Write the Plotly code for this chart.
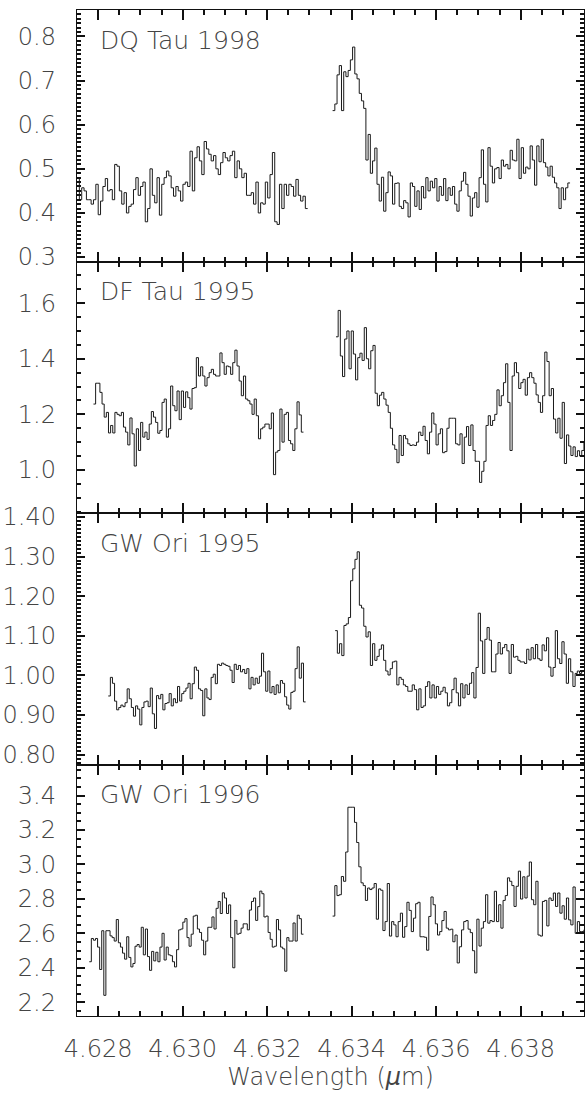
import numpy as np
import plotly.graph_objects as go
from plotly.subplots import make_subplots

# ---------------- data ----------------
panel_labels = ["DQ Tau 1998", "DF Tau 1995", "GW Ori 1995", "GW Ori 1996"]

# wavelength extents (micron) of the two spectral segments in each panel
seg_left = [(4.6275, 4.63296), (4.62789, 4.63286), (4.62824, 4.63291), (4.62779, 4.63286)]
seg_right = [(4.63355, 4.63917), (4.63363, 4.63955), (4.63361, 4.63955), (4.63355, 4.63955)]

dq98_left = [0.48, 0.43, 0.457, 0.45, 0.43, 0.43, 0.42, 0.43, 0.465, 0.396, 0.427, 0.46, 0.478, 0.45,
             0.453, 0.43, 0.51, 0.506, 0.45, 0.42, 0.446, 0.40, 0.415, 0.42, 0.453, 0.48, 0.44, 0.46,
             0.47, 0.38, 0.41, 0.50, 0.44, 0.423, 0.48, 0.395, 0.465, 0.48, 0.495, 0.484, 0.457, 0.438,
             0.46, 0.45, 0.427, 0.465, 0.47, 0.46, 0.54, 0.45, 0.525, 0.55, 0.518, 0.487, 0.562, 0.545,
             0.533, 0.518, 0.53, 0.50, 0.487, 0.514, 0.537, 0.525, 0.518, 0.53, 0.54, 0.48, 0.518, 0.50,
             0.48, 0.49, 0.44, 0.44, 0.446, 0.42, 0.47, 0.40, 0.423, 0.42, 0.47, 0.434, 0.487, 0.537,
             0.38, 0.374, 0.465, 0.41, 0.465, 0.44, 0.465, 0.46, 0.438, 0.476, 0.44, 0.427, 0.438, 0.41]
dq98_right = [0.632, 0.647, 0.713, 0.734, 0.632, 0.72, 0.709, 0.723, 0.747, 0.776, 0.715, 0.704, 0.671,
              0.654, 0.637, 0.52, 0.578, 0.49, 0.518, 0.547, 0.465, 0.427, 0.481, 0.404, 0.446, 0.493,
              0.484, 0.42, 0.467, 0.468, 0.415, 0.41, 0.428, 0.423, 0.391, 0.468, 0.46, 0.415, 0.45,
              0.408, 0.46, 0.434, 0.48, 0.45, 0.472, 0.457, 0.478, 0.427, 0.46, 0.44, 0.478, 0.428,
              0.457, 0.44, 0.46, 0.42, 0.404, 0.45, 0.472, 0.492, 0.465, 0.438, 0.393, 0.434, 0.446,
              0.413, 0.48, 0.543, 0.465, 0.425, 0.548, 0.506, 0.468, 0.50, 0.503, 0.478, 0.52, 0.506,
              0.51, 0.50, 0.542, 0.52, 0.518, 0.567, 0.478, 0.548, 0.49, 0.504, 0.50, 0.552, 0.52,
              0.463, 0.552, 0.516, 0.567, 0.514, 0.504, 0.484, 0.506, 0.481, 0.468, 0.457, 0.41, 0.457,
              0.43, 0.457, 0.468]

df95_left = [1.237, 1.312, 1.312, 1.279, 1.237, 1.19, 1.207, 1.133, 1.16, 1.133, 1.207, 1.2, 1.195,
             1.207, 1.154, 1.136, 1.09, 1.187, 1.13, 1.014, 1.148, 1.07, 1.171, 1.118, 1.136, 1.11,
             1.165, 1.21, 1.19, 1.171, 1.132, 1.142, 1.243, 1.255, 1.118, 1.148, 1.302, 1.231, 1.213,
             1.284, 1.181, 1.284, 1.225, 1.281, 1.26, 1.219, 1.293, 1.296, 1.404, 1.338, 1.371, 1.338,
             1.302, 1.332, 1.35, 1.362, 1.344, 1.338, 1.338, 1.421, 1.386, 1.344, 1.374, 1.371, 1.344,
             1.386, 1.431, 1.374, 1.32, 1.267, 1.338, 1.255, 1.249, 1.237, 1.2, 1.255, 1.195, 1.112,
             1.148, 1.154, 1.165, 1.165, 1.148, 1.205, 0.983, 1.064, 1.07, 1.219, 1.1, 1.2, 1.207,
             1.106, 1.094, 1.07, 1.148, 1.245, 1.198, 1.136]
df95_right = [1.479, 1.574, 1.41, 1.336, 1.471, 1.5, 1.364, 1.5, 1.417, 1.324, 1.404, 1.42, 1.394,
              1.512, 1.4, 1.364, 1.429, 1.448, 1.276, 1.231, 1.269, 1.279, 1.255, 1.233, 1.207, 1.15,
              1.09, 1.074, 1.026, 1.124, 1.052, 1.124, 1.112, 1.094, 1.088, 1.09, 1.088, 1.1, 1.136,
              1.124, 1.157, 1.106, 1.058, 1.136, 1.205, 1.165, 1.09, 1.13, 1.148, 1.062, 1.066, 1.15,
              1.186, 1.186, 1.186, 1.094, 1.09, 1.13, 1.023, 1.118, 1.156, 1.088, 1.162, 1.07, 1.031,
              1.031, 0.955, 0.995, 1.031, 1.16, 1.195, 1.16, 1.178, 1.2, 1.288, 1.231, 1.267, 1.314,
              1.382, 1.243, 1.07, 1.338, 1.386, 1.35, 1.293, 1.314, 1.326, 1.269, 1.332, 1.35, 1.332,
              1.312, 1.27, 1.243, 1.207, 1.267, 1.424, 1.39, 1.267, 1.293, 1.183, 1.133, 1.186, 1.114,
              1.243, 1.023, 1.126, 1.086, 1.052, 1.083, 1.048, 1.069, 1.05, 1.07, 1.1]

gw95_left = [0.948, 0.995, 0.98, 0.935, 0.913, 0.919, 0.925, 0.921, 0.931, 0.966, 0.941, 0.919, 0.897,
             0.923, 0.915, 0.875, 0.919, 0.933, 0.935, 0.921, 0.968, 0.903, 0.866, 0.949, 0.941, 0.952,
             0.913, 0.929, 0.931, 0.954, 0.923, 0.941, 0.931, 0.972, 0.935, 0.954, 0.96, 0.968, 0.98,
             0.941, 0.979, 1.021, 1.013, 0.966, 0.962, 0.898, 0.966, 0.943, 0.939, 0.995, 1.003, 0.979,
             1.028, 1.025, 1.031, 1.028, 1.025, 1.023, 1.013, 0.982, 1.028, 1.015, 1.025, 1.009, 1.015,
             1.005, 1.017, 0.966, 0.995, 0.976, 0.993, 0.98, 0.998, 1.056, 1.009, 0.96, 1.011, 0.956,
             0.972, 0.952, 0.976, 0.956, 0.987, 0.98, 0.946, 0.925, 0.915, 0.957, 0.96, 1.017, 1.072,
             0.993, 1.031, 0.933]
gw95_right = [1.113, 1.056, 1.08, 1.05, 1.126, 1.13, 1.146, 1.239, 1.269, 1.293, 1.312, 1.177, 1.17,
              1.124, 1.097, 1.11, 1.025, 1.08, 1.038, 1.048, 1.066, 1.077, 1.038, 1.011, 1.001, 1.017,
              1.034, 1.036, 0.976, 0.995, 0.99, 0.976, 0.972, 0.96, 0.96, 0.976, 0.964, 0.913, 0.966,
              0.919, 0.923, 0.972, 0.984, 0.943, 0.976, 0.943, 0.972, 0.952, 0.96, 0.97, 0.956, 0.923,
              0.931, 0.964, 0.993, 0.956, 0.923, 0.979, 0.943, 0.976, 0.952, 0.98, 1.007, 0.943, 1.02,
              1.157, 1.087, 1.005, 1.091, 1.121, 1.089, 1.009, 1.009, 1.054, 1.083, 1.054, 1.07, 1.078,
              1.062, 1.005, 1.078, 1.046, 1.048, 1.038, 1.034, 1.034, 1.03, 1.066, 1.039, 1.07, 1.042,
              1.078, 1.042, 1.038, 1.077, 1.062, 1.095, 1.021, 0.998, 1.02, 1.113, 1.042, 1.03, 1.085,
              1.054, 0.98, 1.042, 1.009, 0.972, 1.005, 1.011, 1.005, 1.011, 1.013]

gw96_left = [2.435, 2.57, 2.56, 2.57, 2.52, 2.39, 2.615, 2.24, 2.615, 2.615, 2.585, 2.575, 2.555, 2.68,
             2.545, 2.52, 2.485, 2.45, 2.58, 2.46, 2.405, 2.425, 2.525, 2.535, 2.52, 2.635, 2.475,
             2.625, 2.465, 2.385, 2.495, 2.44, 2.49, 2.435, 2.52, 2.6, 2.445, 2.52, 2.475, 2.47, 2.435,
             2.405, 2.505, 2.62, 2.625, 2.665, 2.685, 2.575, 2.525, 2.595, 2.70, 2.705, 2.625, 2.605,
             2.56, 2.475, 2.555, 2.635, 2.635, 2.695, 2.625, 2.745, 2.785, 2.715, 2.835, 2.805, 2.715,
             2.765, 2.575, 2.4, 2.675, 2.595, 2.6, 2.63, 2.655, 2.655, 2.62, 2.735, 2.785, 2.805, 2.675,
             2.755, 2.845, 2.83, 2.695, 2.70, 2.605, 2.565, 2.52, 2.525, 2.68, 2.62, 2.52, 2.51, 2.38,
             2.575, 2.555, 2.555, 2.66, 2.555, 2.705, 2.685, 2.595]
gw96_right = [2.70, 2.877, 2.819, 2.824, 2.93, 2.902, 3.072, 3.332, 3.332, 3.332, 3.244, 3.127, 2.986,
              2.893, 2.877, 2.791, 2.863, 2.854, 2.863, 2.889, 2.682, 2.858, 2.85, 2.616, 2.668, 2.889,
              2.584, 2.668, 2.649, 2.58, 2.668, 2.717, 2.577, 2.639, 2.78, 2.733, 2.61, 2.688, 2.772,
              2.78, 2.58, 2.58, 2.577, 2.502, 2.698, 2.811, 2.766, 2.655, 2.59, 2.61, 2.674, 2.727,
              2.63, 2.62, 2.624, 2.551, 2.59, 2.428, 2.522, 2.62, 2.668, 2.674, 2.624, 2.604, 2.499,
              2.37, 2.682, 2.526, 2.63, 2.668, 2.824, 2.659, 2.674, 2.668, 2.844, 2.668, 2.766, 2.63,
              2.791, 2.819, 2.922, 2.902, 2.877, 2.756, 2.873, 2.961, 2.799, 2.928, 2.805, 2.932, 3.014,
              2.795, 2.766, 2.902, 2.59, 2.584, 2.785, 2.791, 2.643, 2.805, 2.791, 2.834, 2.756, 2.834,
              2.717, 2.76, 2.682, 2.805, 2.678, 2.649, 2.869, 2.6, 2.668, 2.61, 2.61, 2.62]

left_values = [dq98_left, df95_left, gw95_left, gw96_left]
right_values = [dq98_right, df95_right, gw95_right, gw96_right]

y_ranges = [[0.29, 0.86], [0.845, 1.75], [0.775, 1.41], [2.12, 3.58]]
y_dticks = [0.1, 0.2, 0.1, 0.2]
y_minor = [0.01, 0.05, 0.01, 0.05]
y_formats = [".1f", ".1f", ".2f", ".1f"]

x_range = [4.6275, 4.6395]
x_tick0 = 4.628
x_dtick = 0.002
x_minor_dtick = 0.0005

# ---------------- figure ----------------
FONT = "DejaVu Sans"
TXT = "#444444"
AX = "#111111"
LINE = "#1a1a1a"
W = 200  # light stroke weight, like the plotter font

fig = make_subplots(rows=4, cols=1, shared_xaxes=True, vertical_spacing=0)


def steps(seg, vals):
    edges = np.linspace(seg[0], seg[1], len(vals) + 1)
    return list(edges), list(vals) + [vals[-1]]


for i in range(4):
    xl, yl = steps(seg_left[i], left_values[i])
    xr, yr = steps(seg_right[i], right_values[i])
    fig.add_trace(go.Scatter(x=xl + [None] + xr, y=yl + [None] + yr, mode="lines",
                             line=dict(shape="hv", color=LINE, width=1),
                             connectgaps=False, showlegend=False, hoverinfo="skip"),
                  row=i + 1, col=1)
    fig.update_yaxes(range=y_ranges[i], tickmode="linear", dtick=y_dticks[i], tick0=0,
                     tickformat=y_formats[i],
                     minor=dict(tickmode="linear", dtick=y_minor[i], tick0=0, ticks="inside",
                                ticklen=4, tickwidth=1.5, tickcolor=AX, showgrid=False),
                     row=i + 1, col=1)
    fig.add_annotation(text=panel_labels[i], xref="x domain",
                       yref="y domain" if i == 0 else f"y{i+1} domain",
                       x=(98 - 77) / 508, y=1 - 30.5 / 252.5, xanchor="left", yanchor="middle",
                       showarrow=False, font=dict(family=FONT, size=25, color=TXT, weight=W),
                       row=i + 1, col=1)

fig.update_xaxes(range=x_range, tickmode="linear", tick0=x_tick0, dtick=x_dtick, tickformat=".3f",
                 minor=dict(tickmode="linear", tick0=x_tick0, dtick=x_minor_dtick, ticks="inside",
                            ticklen=5, tickwidth=1.5, tickcolor=AX, showgrid=False),
                 showline=True, linecolor=AX, linewidth=1, mirror="ticks",
                 ticks="inside", ticklen=10, tickwidth=1.5, tickcolor=AX,
                 showgrid=False, zeroline=False,
                 tickfont=dict(family=FONT, size=24, color=TXT, weight=W),
                 ticklabelstandoff=11)
fig.update_yaxes(showline=True, linecolor=AX, linewidth=1, mirror="ticks",
                 ticks="inside", ticklen=8, tickwidth=1.5, tickcolor=AX,
                 showgrid=False, zeroline=False, ticksuffix="  ",
                 tickfont=dict(family=FONT, size=24, color=TXT, weight=W))
fig.update_xaxes(title=dict(text="Wavelength (<i>μ</i>m)", standoff=4,
                            font=dict(family=FONT, size=24, color=TXT, weight=W)),
                 row=4, col=1)

fig.update_layout(width=585, height=1093, margin=dict(l=77, r=0, t=6, b=77),
                  plot_bgcolor="white", paper_bgcolor="white", showlegend=False)

fig.write_html("out.html")
